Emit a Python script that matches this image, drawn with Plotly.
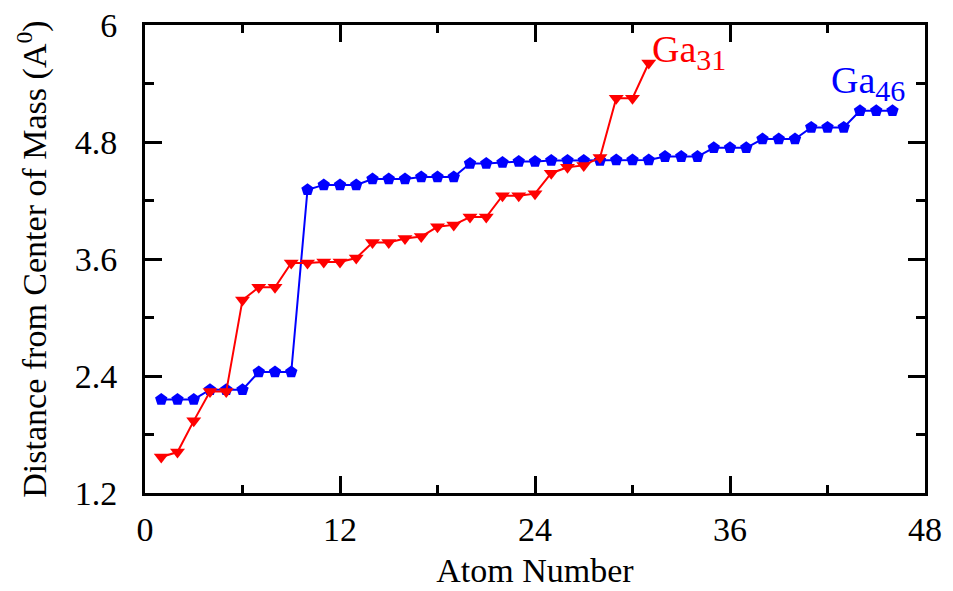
import plotly.graph_objects as go

atoms31 = list(range(1, 32))
ga31 = [1.57, 1.62, 1.94, 2.24, 2.24, 3.18, 3.31, 3.31, 3.56, 3.56, 3.57, 3.57,
        3.61, 3.77, 3.77, 3.81, 3.83, 3.93, 3.95, 4.03, 4.03, 4.25, 4.25, 4.27,
        4.48, 4.54, 4.56, 4.64, 5.25, 5.25, 5.61]

atoms46 = list(range(1, 47))
ga46 = [2.16, 2.16, 2.16, 2.26, 2.26, 2.26, 2.44, 2.44, 2.44, 4.31, 4.36, 4.36,
        4.36, 4.42, 4.42, 4.42, 4.44, 4.44, 4.44, 4.58, 4.58, 4.59, 4.60, 4.60,
        4.61, 4.61, 4.61, 4.61, 4.615, 4.615, 4.615, 4.65, 4.65, 4.65, 4.74, 4.74,
        4.74, 4.83, 4.83, 4.83, 4.95, 4.95, 4.95, 5.12, 5.12, 5.12]

x_ticks = [0, 12, 24, 36, 48]
y_ticks = [1.2, 2.4, 3.6, 4.8, 6]
y_tick_text = ["1.2", "2.4", "3.6", "4.8", "6"]

FONT = "Liberation Serif"
RED = "#ff0000"
BLUE = "#0000ff"

fig = go.Figure()
fig.add_trace(go.Scatter(
    x=atoms46, y=ga46, mode="lines+markers", name="Ga46",
    line=dict(color=BLUE, width=2),
    marker=dict(symbol="pentagon", size=13, color=BLUE),
))
fig.add_trace(go.Scatter(
    x=atoms31, y=ga31, mode="lines+markers", name="Ga31",
    line=dict(color=RED, width=2),
    marker=dict(symbol="triangle-down", size=13, color=RED),
))

axis_common = dict(
    showline=True, linecolor="black", linewidth=3, mirror="ticks",
    ticks="inside", tickcolor="black", tickwidth=3, ticklen=17,
    showgrid=False, zeroline=False,
    tickfont=dict(family=FONT, size=34, color="black"),
)

fig.update_xaxes(
    **axis_common,
    range=[0, 48], tickvals=x_ticks, ticktext=[str(v) for v in x_ticks],
    ticklabelstandoff=4,
    minor=dict(ticks="inside", ticklen=8, tickwidth=3, tickcolor="black",
               tick0=0, dtick=6, showgrid=False),
    title=dict(text="Atom Number", font=dict(family=FONT, size=34, color="black"),
               standoff=12),
)
fig.update_yaxes(
    **axis_common,
    range=[1.2, 6], tickvals=y_ticks, ticktext=y_tick_text,
    ticklabelstandoff=18,
    minor=dict(ticks="inside", ticklen=9, tickwidth=3, tickcolor="black",
               tick0=1.2, dtick=0.6, showgrid=False),
    title=dict(text="Distance from Center of Mass (A<sup>0</sup>)",
               font=dict(family=FONT, size=34, color="black"), standoff=18),
)

fig.add_annotation(
    x=31.06, y=5.72, xref="x", yref="y", xanchor="left", yanchor="middle",
    text="Ga<sub><span style='font-size:30px'>31</span></sub>", showarrow=False,
    font=dict(family=FONT, size=38, color=RED),
)
fig.add_annotation(
    x=42.1, y=5.41, xref="x", yref="y", xanchor="left", yanchor="middle",
    text="Ga<sub><span style='font-size:30px'>46</span></sub>", showarrow=False,
    font=dict(family=FONT, size=38, color=BLUE),
)

fig.update_layout(
    width=953, height=591,
    margin=dict(l=145, r=28, t=25, b=98, autoexpand=False),
    plot_bgcolor="white", paper_bgcolor="white",
    showlegend=False,
    font=dict(family=FONT, color="black"),
)

fig.write_html("out.html")
